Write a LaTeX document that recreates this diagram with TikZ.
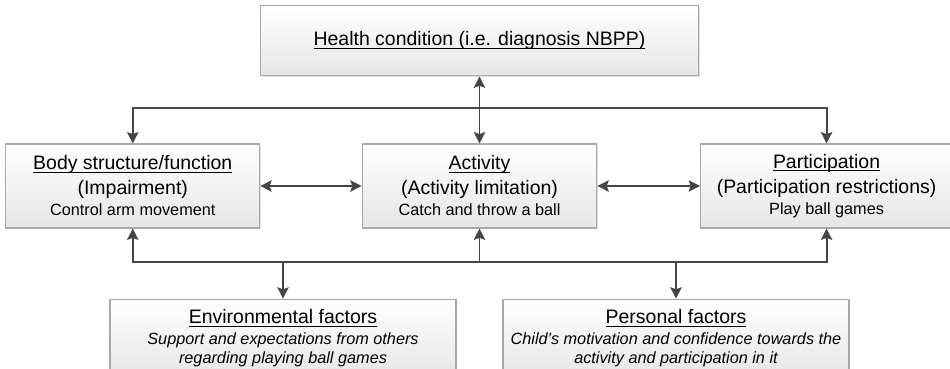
\documentclass[tikz,border=0pt]{standalone}
\usepackage{fontspec}
\setmainfont{Liberation Sans}
\usetikzlibrary{positioning, arrows.meta, shadows}

\definecolor{boxline}{HTML}{A8A8A8}
\definecolor{boxshade}{HTML}{E6E6E6}
\definecolor{arrowgray}{HTML}{454545}

\newcommand{\titlefont}{\fontsize{14.6}{18.75}\selectfont}
\newcommand{\notefont}{\fontsize{12.2}{15}\selectfont}
% underline at a fixed distance below the baseline
\newcommand{\ul}[1]{\setbox0\hbox{#1}\rlap{\rule[-2.1pt]{\wd0}{0.7pt}}\box0}

\begin{document}
\begin{tikzpicture}[x=0.75pt, y=-0.75pt, >={Stealth[length=8.5pt, width=8.5pt, inset=1.5pt]},
    box/.style={draw=boxline, line width=0.8pt, top color=white, bottom color=boxshade,
      align=center, inner sep=0pt, font=\titlefont,
      drop shadow={shadow xshift=1pt, shadow yshift=-1pt, opacity=0.25, fill=gray}},
    link/.style={draw=arrowgray, line width=1.4pt}]
  \clip (0,0) rectangle (950,368);

  \node[box, minimum width=176pt, minimum height=63pt] (act) at (479.5,186)
    {\ul{Activity}\\ (Activity limitation)\\[-3pt] {\notefont Catch and throw a ball}};
  \node[box, minimum width=190.5pt, minimum height=63pt] (body) [left = 76pt of act]
    {\ul{Body structure/function}\\ (Impairment)\\[-3pt] {\notefont Control arm movement}};
  \node[box, minimum width=189pt, minimum height=63pt] (part) [right = 77pt of act]
    {\ul{Participation}\\ (Participation restrictions)\\[-3pt] {\notefont Play ball games}};
  \node[box, minimum width=329pt, minimum height=52.5pt] (health) [above = 50.25pt of act]
    {\ul{Health condition (i.e. diagnosis NBPP)}};

  \node[box, minimum width=259.5pt, minimum height=59pt] (env) at (283,338.5)
    {\ul{Environmental factors}\\[-3pt] {\notefont\itshape Support and expectations from others}\\[-4.5pt]
     {\notefont\itshape regarding playing ball games}};
  \node[box, minimum width=259.5pt, minimum height=59pt] (pers) at (676,338.5)
    {\ul{Personal factors}\\[-3pt] {\notefont\itshape Child's motivation and confidence towards the}\\[-4.5pt]
     {\notefont\itshape activity and participation in it}};

  \coordinate (up) at (479.5,108);
  \coordinate (down) at (479.5,262);

  % health condition to the three components
  \draw[link, ->] (up) -- (health);
  \draw[link, ->] (up) -- (act);
  \draw[link, ->] (up) -| (body);
  \draw[link, ->] (up) -| (part);

  % components to the contextual factors
  \draw[link, ->] (down) -- (act);
  \draw[link, ->] (down) -| (body);
  \draw[link, ->] (down) -| (part);
  \draw[link, ->] (env.north |- down) -- (env);
  \draw[link, ->] (pers.north |- down) -- (pers);

  \draw[link, <->] (body) -- (act);
  \draw[link, <->] (act) -- (part);
\end{tikzpicture}
\end{document}
